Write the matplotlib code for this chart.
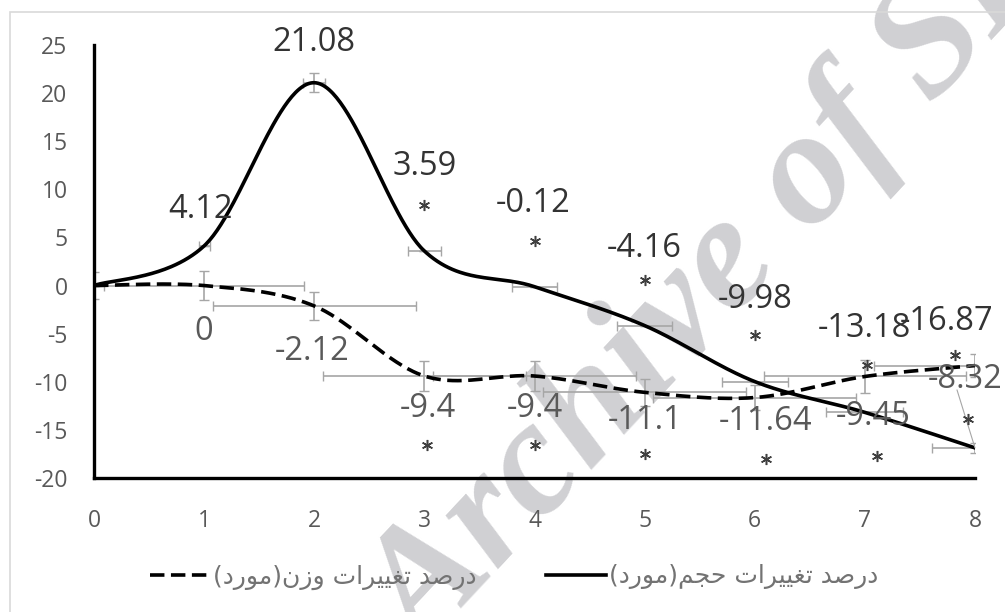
import numpy as np
import matplotlib.pyplot as plt
from matplotlib.lines import Line2D
from matplotlib.patches import Rectangle
from matplotlib import transforms

plt.rcParams['axes.unicode_minus'] = False

# روزها و درصد تغییرات
days = [0, 1, 2, 3, 4, 5, 6, 7, 8]
volume_change = [0, 4.12, 21.08, 3.59, -0.12, -4.16, -9.98, -13.18, -16.87]
weight_change = [0, 0, -2.12, -9.4, -9.4, -11.1, -11.64, -9.45, -8.32]

volume_xerr = [0, 0.05, 0.1, 0.15, 0.2, 0.25, 0.3, 0.35, 0.39]
volume_yerr = [1.4, 0, 1.0, 0, 0, 0, 0, 0, 0.5]
weight_xerr = [0, 0.91, 0.92, 0.92, 0.92, 0.92, 0.92, 0.92, 0.92]
weight_yerr = [0, 1.5, 1.45, 1.55, 1.55, 1.4, 1.3, 1.7, 1.2]

volume_label = 'درصد تغییرات حجم(مورد)'
weight_label = 'درصد تغییرات وزن(مورد)'

y_ticks = [-20, -15, -10, -5, 0, 5, 10, 15, 20, 25]

# جای برچسب‌ها و ستاره‌ها نسبت به نقطه (پیکسل)
volume_label_off = [None, (-4, 36), (0, 40), (0, 85), (-1, 83), (0, 77), (0, 82), (0, 84), (-28, 126)]
weight_label_off = [None, (0, -46), (-2, -46), (3, -32), (0, -32), (0, -28), (11, -24), (8, -40), (-10, -14)]
volume_star_off = [None, None, None, (0, 46), (0, 46), (0, 46), (0, 47), (2, 47), (-20, 93)]
weight_star_off = [None, None, None, (3, -69), (0, -69), (0, -62), (11, -61), (12, -80), (-7, -53)]

FORMS = {
    'ا': ('\uFE8D', '\uFE8E', None, None),
    'د': ('\uFEA9', '\uFEAA', None, None),
    'ر': ('\uFEAD', '\uFEAE', None, None),
    'ز': ('\uFEAF', '\uFEB0', None, None),
    'و': ('\uFEED', '\uFEEE', None, None),
    'ص': ('\uFEB9', '\uFEBA', '\uFEBB', '\uFEBC'),
    'ت': ('\uFE95', '\uFE96', '\uFE97', '\uFE98'),
    'غ': ('\uFECD', '\uFECE', '\uFECF', '\uFED0'),
    'ی': ('\uFBFC', '\uFBFD', '\uFEF3', '\uFEF4'),
    'ن': ('\uFEE5', '\uFEE6', '\uFEE7', '\uFEE8'),
    'م': ('\uFEE1', '\uFEE2', '\uFEE3', '\uFEE4'),
    'ح': ('\uFEA1', '\uFEA2', '\uFEA3', '\uFEA4'),
    'ج': ('\uFE9D', '\uFE9E', '\uFE9F', '\uFEA0'),
}


def farsi(s):
    # اتصال حروف و برگرداندن ترتیب برای نمایش راست به چپ
    out = []
    for i, ch in enumerate(s):
        f = FORMS.get(ch)
        if f is None:
            out.append(ch)
            continue
        prev = s[i - 1] if i > 0 else ''
        nxt = s[i + 1] if i + 1 < len(s) else ''
        jp = prev in FORMS and FORMS[prev][2] is not None
        jn = f[2] is not None and nxt in FORMS
        if jp and jn:
            out.append(f[3])
        elif jp:
            out.append(f[1])
        elif jn:
            out.append(f[2])
        else:
            out.append(f[0])
    mirror = {'(': ')', ')': '('}
    return ''.join(mirror.get(c, c) for c in reversed(out))


def smooth(x, y, n=60):
    # منحنی هموار شبیه اکسل (بزیه از روی نقاط)
    p = np.column_stack([x, y]).astype(float)
    p = np.vstack([p[0], p, p[-1]])
    t = np.linspace(0, 1, n)[:, None]
    pts = []
    for i in range(1, len(p) - 2):
        p0, p1, p2, p3 = p[i - 1], p[i], p[i + 1], p[i + 2]
        c1 = p1 + (p2 - p0) / 6
        c2 = p2 - (p3 - p1) / 6
        seg = ((1 - t) ** 3) * p1 + 3 * ((1 - t) ** 2) * t * c1 + 3 * (1 - t) * t ** 2 * c2 + t ** 3 * p2
        pts.append(seg if i == 1 else seg[1:])
    pts = np.vstack(pts)
    return pts[:, 0], pts[:, 1]


fig = plt.figure(figsize=(10.05, 6.12), dpi=100)
fig.patches.append(Rectangle((10 / 1005, -0.01), 1.0, 1 - 12 / 612 + 0.01, transform=fig.transFigure,
                             fill=False, edgecolor='#d9d9d9', lw=1.2))
fig.text(0.740, 0.580, 'Archive of SID', rotation=47, rotation_mode='anchor', ha='center', va='center',
         fontsize=118, family='Liberation Serif', weight='bold', style='italic', color='#d0d0d3', zorder=-1)

ax = fig.add_axes([94 / 1005, 1 - 478 / 612, (975 - 94) / 1005, (478 - 45) / 612])
ax.patch.set_alpha(0)

dash = (0, (4, 1.8))
ax.errorbar(days, weight_change, xerr=weight_xerr, yerr=weight_yerr, fmt='none',
            ecolor='#a6a6a6', elinewidth=1.2, capsize=3.5, zorder=1)
ax.errorbar(days, volume_change, xerr=volume_xerr, yerr=volume_yerr, fmt='none',
            ecolor='#a6a6a6', elinewidth=1.2, capsize=3.5, zorder=1)

sx, sy = smooth(days, weight_change)
ax.plot(sx, sy, color='black', lw=2.6, linestyle=dash, zorder=3)
sx, sy = smooth(days, volume_change)
ax.plot(sx, sy, color='black', lw=2.6, zorder=3)

for i in range(1, len(days)):
    ax.annotate(f'{volume_change[i]:g}', (days[i], volume_change[i]), xytext=volume_label_off[i],
                textcoords='offset pixels', ha='center', va='center', fontsize=23.5,
                family='Open Sans', color='#333333', zorder=4)
    ax.annotate(f'{weight_change[i]:g}', (days[i], weight_change[i]), xytext=weight_label_off[i],
                textcoords='offset pixels', ha='center', va='center', fontsize=23.5,
                family='Open Sans', color='#595959', zorder=4)
    for vals, offs in ((volume_change, volume_star_off), (weight_change, weight_star_off)):
        if offs[i] is None:
            continue
        tr = transforms.offset_copy(ax.transData, fig=fig, x=offs[i][0], y=offs[i][1], units='dots')
        ax.plot(days[i], vals[i], marker=(6, 2, 0), ms=8, mew=1.1, color='#404040',
                transform=tr, zorder=4, clip_on=False)

ax.annotate('', xy=(days[8], volume_change[8]), xytext=(-18, 58), textcoords='offset pixels',
            arrowprops=dict(arrowstyle='-', color='#a6a6a6', lw=0.8, shrinkA=0, shrinkB=0))

ax.set_xlim(0, 8)
ax.set_ylim(-20, 25)
ax.set_xticks(days)
ax.set_yticks(y_ticks)
for s in ('top', 'right'):
    ax.spines[s].set_visible(False)
for s in ('left', 'bottom'):
    ax.spines[s].set_linewidth(2.4)
    ax.spines[s].set_color('black')
ax.tick_params(axis='y', length=0, pad=19, labelsize=16.5, labelcolor='#595959')
ax.tick_params(axis='x', length=0, pad=22, labelsize=16.5, labelcolor='#595959')
for lab in ax.get_xticklabels() + ax.get_yticklabels():
    lab.set_family('Open Sans')

handles = [Line2D([], [], color='black', lw=2.6, linestyle=dash),
           Line2D([], [], color='black', lw=2.6)]
fig.legend(handles, [farsi(weight_label), farsi(volume_label)], loc='center',
           bbox_to_anchor=(0.5115, 1 - 577 / 612), ncol=2, frameon=False, handlelength=2.4,
           handletextpad=0.1, columnspacing=2.8, prop={'family': 'DejaVu Sans', 'size': 18},
           labelcolor='#737373')

fig.savefig('out.png', dpi=100)
